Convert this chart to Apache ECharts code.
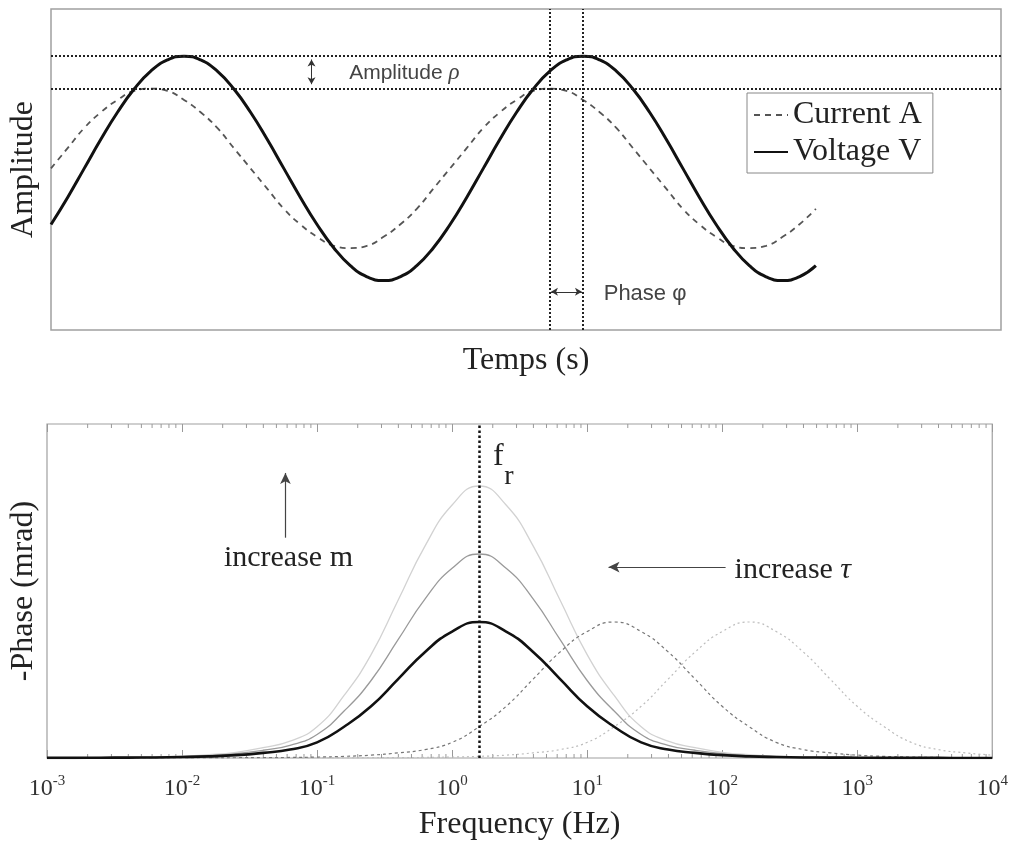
<!DOCTYPE html>
<html><head><meta charset="utf-8">
<script src="https://cdn.jsdelivr.net/npm/echarts@6/dist/echarts.min.js"></script>
<style>html,body{margin:0;padding:0;background:#fff}#c{width:1011px;height:842px}</style>
</head><body><div id="c"></div>
<script>
// ---- top panel data (time in degrees of phase) ----
const timeDeg = [0,15,30,45,60,75,90,105,120,135,150,165,180,195,210,225,240,255,270,285,300,315,330,345,360,375,390,405,420,435,450,465,480,495,510,525,540,555,570,585,600,615,630,645,660,675,690];
const voltageV = [-0.5,-0.259,0,0.259,0.5,0.707,0.866,0.966,1,0.966,0.866,0.707,0.5,0.259,0,-0.259,-0.5,-0.707,-0.866,-0.966,-1,-0.966,-0.866,-0.707,-0.5,-0.259,0,0.259,0.5,0.707,0.866,0.966,1,0.966,0.866,0.707,0.5,0.259,0,-0.259,-0.5,-0.707,-0.866,-0.966,-1,-0.966,-0.866];
const currentA = [0,0.18,0.36,0.50,0.61,0.69,0.71,0.69,0.61,0.50,0.36,0.18,0,-0.18,-0.36,-0.50,-0.61,-0.69,-0.71,-0.69,-0.61,-0.50,-0.36,-0.18,0,0.18,0.36,0.50,0.61,0.69,0.71,0.69,0.61,0.50,0.36,0.18,0,-0.18,-0.36,-0.50,-0.61,-0.69,-0.71,-0.69,-0.61,-0.50,-0.36];
const amplitudeLevels = [1, 0.71];
const phaseMarks = [450, 480];

// ---- bottom panel data ----
const freqHz = [0.001,0.001585,0.002512,0.003981,0.00631,0.01,0.01585,0.02512,0.03981,0.0631,0.1,0.1585,0.2512,0.3981,0.631,1,1.585,2.512,3.981,6.31,10,15.85,25.12,39.81,63.1,100,158.5,251.2,398.1,631,1000,1585,2512,3981,6310,10000];
const phaseBase  = [0.01,0.01,0.02,0.03,0.04,0.07,0.12,0.21,0.38,0.62,1.15,2.3,3.8,5.8,7.8,9.3,10,9.3,7.8,5.8,3.8,2.3,1.15,0.62,0.38,0.21,0.12,0.07,0.04,0.03,0.02,0.01,0.01,0.01,0,0];
const phaseMidM  = [0.02,0.02,0.03,0.05,0.06,0.1,0.18,0.32,0.57,0.93,1.73,3.45,5.7,8.7,11.7,13.95,15,13.95,11.7,8.7,5.7,3.45,1.73,0.93,0.57,0.32,0.18,0.1,0.06,0.05,0.03,0.02,0.02,0.02,0,0];
const phaseHighM = [0.02,0.02,0.04,0.06,0.08,0.14,0.24,0.42,0.76,1.24,2.3,4.6,7.6,11.6,15.6,18.6,20,18.6,15.6,11.6,7.6,4.6,2.3,1.24,0.76,0.42,0.24,0.14,0.08,0.06,0.04,0.02,0.02,0.02,0,0];
const phaseTau10 = [0,0,0,0,0.01,0.01,0.01,0.02,0.03,0.04,0.07,0.12,0.21,0.38,0.62,1.15,2.3,3.8,5.8,7.8,9.3,10,9.3,7.8,5.8,3.8,2.3,1.15,0.62,0.38,0.21,0.12,0.07,0.04,0.03,0.02];
const phaseTau100= [0,0,0,0,0,0,0,0,0,0,0.01,0.01,0.02,0.03,0.04,0.07,0.12,0.21,0.38,0.62,1.15,2.3,3.8,5.8,7.8,9.3,10,9.3,7.8,5.8,3.8,2.3,1.15,0.62,0.38,0.21];
const resonanceFreq = 1.585;
const decadeExps = [-3,-2,-1,0,1,2,3];
const minorMultipliers = [2,3,4,5,6,7,8,9];

const zip = (xs, ys) => xs.map((x, i) => [x, ys[i]]);
const minorTicks = [];
decadeExps.forEach(e => minorMultipliers.forEach(m => minorTicks.push([m * Math.pow(10, e), 0])));

const SERIF = 'Liberation Serif', SANS = 'Liberation Sans';
const Y2MAX = 24.56;
const SM = 0.5;

const option = {
  animation: false,
  backgroundColor: '#fff',
  grid: [
    {left: 49, right: 10, top: 9, height: 321, show: true, borderColor: '#a0a0a0', borderWidth: 1.5, backgroundColor: 'transparent'},
    {left: 45, right: 15, top: 424, height: 334, show: true, borderColor: '#a0a0a0', borderWidth: 1.2, backgroundColor: 'transparent'}
  ],
  legend: {
    data: ['Current A', 'Voltage V'],
    orient: 'vertical', left: 747, top: 93,
    padding: [6, 11, 5, 6], itemGap: 5, itemWidth: 34, itemHeight: 14,
    borderColor: '#888', borderWidth: 1, backgroundColor: '#fff',
    itemStyle: {opacity: 0},
    textStyle: {fontFamily: SERIF, fontSize: 32, color: '#222'}
  },
  xAxis: [
    {type: 'value', gridIndex: 0, min: 0, max: 857, axisLine: {show: false}, axisTick: {show: false}, axisLabel: {show: false}, splitLine: {show: false},
     name: 'Temps (s)', nameLocation: 'middle', nameGap: 15, nameTextStyle: {fontFamily: SERIF, fontSize: 32, color: '#222'}},
    {type: 'log', gridIndex: 1, min: 0.001, max: 10000, logBase: 10, axisLine: {show: false},
     axisTick: {show: true, inside: true, length: 8, lineStyle: {color: '#999', width: 1}},
     axisLabel: {margin: 16, formatter: v => '{b|10}{s|' + Math.round(Math.log10(v)) + '}',
       rich: {b: {fontFamily: SERIF, fontSize: 24, lineHeight: 30, color: '#333'}, s: {fontFamily: SERIF, fontSize: 15, verticalAlign: 'top', color: '#333'}}},
     splitLine: {show: false},
     name: 'Frequency (Hz)', nameLocation: 'middle', nameGap: 51, nameTextStyle: {fontFamily: SERIF, fontSize: 32, color: '#222'}},
    {type: 'log', gridIndex: 1, position: 'top', min: 0.001, max: 10000, logBase: 10, axisLine: {show: false},
     axisTick: {show: true, inside: true, length: 8, lineStyle: {color: '#999', width: 1}}, axisLabel: {show: false}, splitLine: {show: false}}
  ],
  yAxis: [
    {type: 'value', gridIndex: 0, min: -1.44, max: 1.42, axisLine: {show: false}, axisTick: {show: false}, axisLabel: {show: false}, splitLine: {show: false},
     name: 'Amplitude', nameLocation: 'middle', nameGap: 11, nameTextStyle: {fontFamily: SERIF, fontSize: 32, color: '#222'}},
    {type: 'value', gridIndex: 1, min: 0, max: Y2MAX, axisLine: {show: false}, axisTick: {show: false}, axisLabel: {show: false}, splitLine: {show: false},
     name: '-Phase (mrad)', nameLocation: 'middle', nameGap: 7, nameTextStyle: {fontFamily: SERIF, fontSize: 32, color: '#222'}}
  ],
  series: [
    {name: 'Current A', type: 'line', xAxisIndex: 0, yAxisIndex: 0, data: zip(timeDeg, currentA), smooth: true, symbol: 'none',
     lineStyle: {color: '#555', width: 1.8, type: [6, 5]}, itemStyle: {color: '#555'}},
    {name: 'Voltage V', type: 'line', xAxisIndex: 0, yAxisIndex: 0, data: zip(timeDeg, voltageV), smooth: true, symbol: 'none',
     lineStyle: {color: '#111', width: 3}, itemStyle: {color: '#111'},
     markLine: {silent: true, symbol: ['none', 'none'], animation: false, label: {show: false},
       lineStyle: {color: '#222', width: 2, type: 'dotted'},
       data: [
         {xAxis: phaseMarks[0]}, {xAxis: phaseMarks[1]},
         {yAxis: amplitudeLevels[0]}, {yAxis: amplitudeLevels[1]},
         [{coord: [235, 0.97], symbol: 'arrow', symbolSize: [6, 7], lineStyle: {type: 'solid', width: 1, color: '#333'}},
          {coord: [235, 0.75], symbol: 'arrow', symbolSize: [6, 7]}],
         [{coord: [phaseMarks[0] + 1, -1.1], symbol: 'arrow', symbolSize: [6, 7], lineStyle: {type: 'solid', width: 1, color: '#333'}},
          {coord: [phaseMarks[1] - 1, -1.1], symbol: 'arrow', symbolSize: [6, 7]}]
       ]}},
    {name: 'highM', type: 'line', xAxisIndex: 1, yAxisIndex: 1, data: zip(freqHz, phaseHighM), smooth: SM, symbol: 'none',
     lineStyle: {color: '#d2d2d2', width: 1.3}},
    {name: 'midM', type: 'line', xAxisIndex: 1, yAxisIndex: 1, data: zip(freqHz, phaseMidM), smooth: SM, symbol: 'none',
     lineStyle: {color: '#9a9a9a', width: 1.3}},
    {name: 'tau100', type: 'line', xAxisIndex: 1, yAxisIndex: 1, data: zip(freqHz, phaseTau100), smooth: SM, symbol: 'none',
     lineStyle: {color: '#bdbdbd', width: 1.2, type: [2, 3]}},
    {name: 'tau10', type: 'line', xAxisIndex: 1, yAxisIndex: 1, data: zip(freqHz, phaseTau10), smooth: SM, symbol: 'none',
     lineStyle: {color: '#777', width: 1.2, type: [3, 3]}},
    {name: 'base', type: 'line', xAxisIndex: 1, yAxisIndex: 1, data: zip(freqHz, phaseBase), smooth: SM, symbol: 'none',
     lineStyle: {color: '#111', width: 2.6}, z: 5,
     markLine: {silent: true, symbol: ['none', 'none'], animation: false, label: {show: false},
       lineStyle: {color: '#111', width: 2.5, type: 'dotted'},
       data: [
         {xAxis: resonanceFreq},
         [{coord: [0.0583, 16.2], symbol: 'none', lineStyle: {type: 'solid', width: 1.2, color: '#444'}},
          {coord: [0.0583, 20.96], symbol: 'arrow', symbolSize: [8, 11]}],
         [{coord: [106, 14.04], symbol: 'none', lineStyle: {type: 'solid', width: 1.2, color: '#444'}},
          {coord: [14.4, 14.04], symbol: 'arrow', symbolSize: [8, 11]}]
       ]}},
    {name: 'minorTicks', type: 'custom', xAxisIndex: 1, yAxisIndex: 1, data: minorTicks, silent: true, z: 1,
     renderItem: (params, api) => {
       const v = api.value(0);
       const b = api.coord([v, 0]);
       const t = api.coord([v, Y2MAX]);
       const st = {stroke: '#999', lineWidth: 1};
       return {type: 'group', children: [
         {type: 'line', shape: {x1: b[0], y1: b[1], x2: b[0], y2: b[1] - 4}, style: st},
         {type: 'line', shape: {x1: t[0], y1: t[1], x2: t[0], y2: t[1] + 4}, style: st}
       ]};
     }}
  ]
};

const chart = echarts.init(document.getElementById('c'));
chart.setOption(option);

const px = (g, v) => chart.convertToPixel({gridIndex: g}, v);
const txt = (pos, text, rich, align) => ({type: 'text', x: pos[0], y: pos[1], silent: true,
  style: {text: text, rich: rich, align: align || 'left', verticalAlign: 'middle'}});

const pAmp = px(0, [269, 0.849]);
const pPh = px(0, [498.6, -1.116]);
const pM = px(1, [0.0614, 14.7]);
const pTau = px(1, [123.6, 13.8]);
const pF = px(1, [2.01, 22.2]);
const pR = px(1, [2.43, 20.7]);

chart.setOption({graphic: [
  txt(pAmp, '{a|Amplitude }{r|ρ}', {a: {fontFamily: SANS, fontSize: 21, fill: '#444'}, r: {fontFamily: SERIF, fontStyle: 'italic', fontSize: 23, fill: '#444'}}),
  txt(pPh, '{a|Phase φ}', {a: {fontFamily: SANS, fontSize: 22, fill: '#444'}}),
  txt(pM, '{a|increase m}', {a: {fontFamily: SERIF, fontSize: 30, fill: '#222'}}, 'center'),
  txt(pTau, '{a|increase }{t|τ}', {a: {fontFamily: SERIF, fontSize: 30, fill: '#222'}, t: {fontFamily: SERIF, fontStyle: 'italic', fontSize: 30, fill: '#222'}}),
  txt(pF, '{a|f}', {a: {fontFamily: SERIF, fontSize: 32, fill: '#222'}}),
  txt(pR, '{a|r}', {a: {fontFamily: SERIF, fontSize: 28, fill: '#222'}})
]});
</script>
</body></html>
